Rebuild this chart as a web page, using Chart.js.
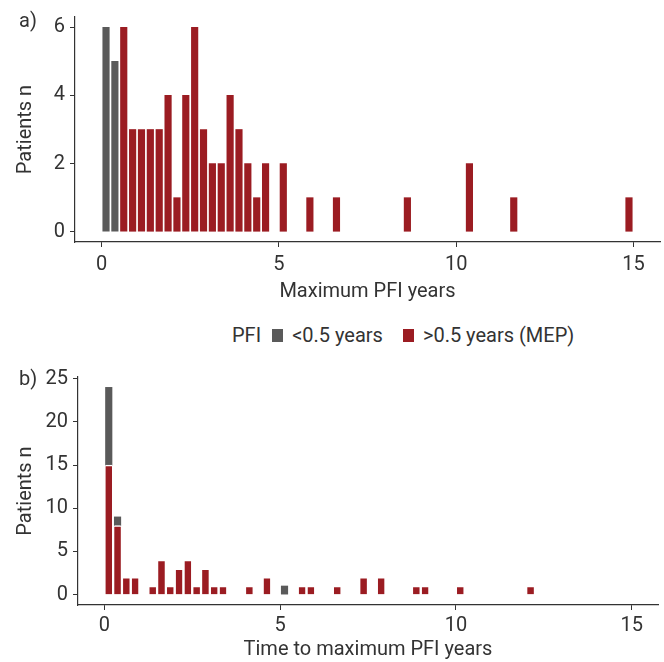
<!DOCTYPE html>
<html>
<head>
<meta charset="utf-8">
<script src="https://cdn.jsdelivr.net/npm/chart.js@4"></script>
<style>
  html, body { margin: 0; padding: 0; background: #fff; }
  body { width: 664px; height: 662px; position: relative; overflow: hidden; font-family: Roboto, "Noto Sans", sans-serif; color: #333; }
  #wrapA { position: absolute; left: 0; top: 0; width: 664px; height: 310px; }
  #wrapB { position: absolute; left: 0; top: 360px; width: 664px; height: 302px; }
  .panel { position: absolute; font-size: 20px; color: #333; }
  #legend { position: absolute; left: 232px; top: 321px; height: 28px; font-size: 20px; color: #333; white-space: nowrap; display: flex; align-items: center; }
  .sw { display: inline-block; width: 11px; height: 13px; margin: 0 9px 0 11px; }
</style>
</head>
<body>
<div id="wrapA"><canvas id="chartA" width="664" height="310"></canvas></div>
<div id="wrapB"><canvas id="chartB" width="664" height="302"></canvas></div>
<div class="panel" style="left:19px; top:8px;">a)</div>
<div class="panel" style="left:19px; top:366px;">b)</div>
<div id="legend">
  <span>PFI</span>
  <span class="sw" style="background:#5a5a5a"></span><span>&lt;0.5 years</span>
  <span class="sw" style="background:#9b1c22; margin-left:20px;"></span><span>&gt;0.5 years (MEP)</span>
</div>
<script>
// ---- Data (bin centres in years, bin width 0.25 years) ----
const seriesNames = ['<0.5 years', '>0.5 years (MEP)'];

// Panel a) Maximum PFI
const a_grayX = [0.125, 0.375];
const a_grayN = [6, 5];
const a_redX  = [0.625, 0.875, 1.125, 1.375, 1.625, 1.875, 2.125, 2.375, 2.625, 2.875, 3.125, 3.375, 3.625, 3.875, 4.125, 4.375, 4.625, 5.125, 5.875, 6.625, 8.625, 10.375, 11.625, 14.875];
const a_redN  = [6, 3, 3, 3, 3, 4, 1, 4, 6, 3, 2, 2, 4, 3, 2, 1, 2, 2, 1, 1, 1, 2, 1, 1];
const a_yTicks = [0, 2, 4, 6];

// Panel b) Time to maximum PFI
const b_grayX = [0.125, 0.375, 5.125];
const b_grayN = [9, 1, 1];
const b_redX  = [0.125, 0.375, 0.625, 0.875, 1.375, 1.625, 1.875, 2.125, 2.375, 2.625, 2.875, 3.125, 3.375, 4.125, 4.625, 5.625, 5.875, 6.625, 7.375, 7.875, 8.875, 9.125, 10.125, 12.125];
const b_redN  = [15, 8, 2, 2, 1, 4, 1, 3, 4, 1, 3, 1, 1, 1, 2, 1, 1, 1, 2, 2, 1, 1, 1, 1];
const b_yTicks = [0, 5, 10, 15, 20, 25];

const xTicks = [0, 5, 10, 15];

const GRAY = '#5a5a5a';
const RED = '#9b1c22';
const TXT = '#333333';
const FONT = 'Roboto, "Noto Sans", sans-serif';

function pts(xs, ys) { return xs.map((x, i) => ({ x: x, y: ys[i] })); }

function makeChart(id, cfg) {
  const axisFont = { family: FONT, size: 20 };
  return new Chart(document.getElementById(id), {
    type: 'bar',
    data: {
      datasets: [
        { label: seriesNames[1], data: pts(cfg.redX, cfg.redN), backgroundColor: RED,
          borderColor: '#ffffff', borderWidth: cfg.redTopBorder ? { top: 1.5, left: 0, right: 0, bottom: 0 } : 0,
          borderSkipped: 'start', barThickness: 6.5 },
        { label: seriesNames[0], data: pts(cfg.grayX, cfg.grayN), backgroundColor: GRAY,
          borderWidth: 0, barThickness: 6.5 }
      ]
    },
    options: {
      responsive: false,
      animation: false,
      layout: { padding: { top: cfg.padTop, right: cfg.padRight, left: 0, bottom: 0 } },
      plugins: { legend: { display: false }, tooltip: { enabled: false } },
      scales: {
        x: {
          type: 'linear', stacked: true, min: -0.75, max: 15.75, offset: false,
          afterBuildTicks: s => { s.ticks = xTicks.map(v => ({ value: v })); },
          afterFit: s => { s.height = cfg.xAxisH; },
          grid: { offset: false, drawOnChartArea: false, drawTicks: true, tickLength: 5, color: TXT, lineWidth: 1 },
          border: { display: true, color: TXT, width: 1.2 },
          ticks: { color: TXT, font: axisFont, padding: cfg.xTickPad, maxRotation: 0 },
          title: { display: true, text: cfg.xTitle, color: TXT, font: axisFont, padding: { top: 0, bottom: cfg.xTitlePad } }
        },
        y: {
          type: 'linear', stacked: true, min: cfg.yMin, max: cfg.yMax,
          afterBuildTicks: s => { s.ticks = cfg.yTicks.map(v => ({ value: v })); },
          afterFit: s => { s.width = cfg.yAxisW; },
          grid: { drawOnChartArea: false, drawTicks: true, tickLength: 5, color: TXT, lineWidth: 1 },
          border: { display: true, color: TXT, width: 1.2 },
          ticks: { color: TXT, font: axisFont, padding: 5 },
          title: { display: true, text: 'Patients n', color: TXT, font: axisFont, padding: { top: 14, bottom: 0 } }
        }
      }
    }
  });
}

makeChart('chartA', {
  redX: a_redX, redN: a_redN, grayX: a_grayX, grayN: a_grayN, redTopBorder: false,
  yTicks: a_yTicks, yMin: -0.3, yMax: 6.3,
  padTop: 15, padRight: 4, xAxisH: 68, yAxisW: 75,
  xTitle: 'Maximum PFI years', xTitlePad: 6, xTickPad: 6
});

makeChart('chartB', {
  redX: b_redX, redN: b_redN, grayX: b_grayX, grayN: b_grayN, redTopBorder: true,
  yTicks: b_yTicks, yMin: -1.2, yMax: 25.2,
  padTop: 15, padRight: 6, xAxisH: 57, yAxisW: 78,
  xTitle: 'Time to maximum PFI years', xTitlePad: 0, xTickPad: 4
});
</script>
</body>
</html>
